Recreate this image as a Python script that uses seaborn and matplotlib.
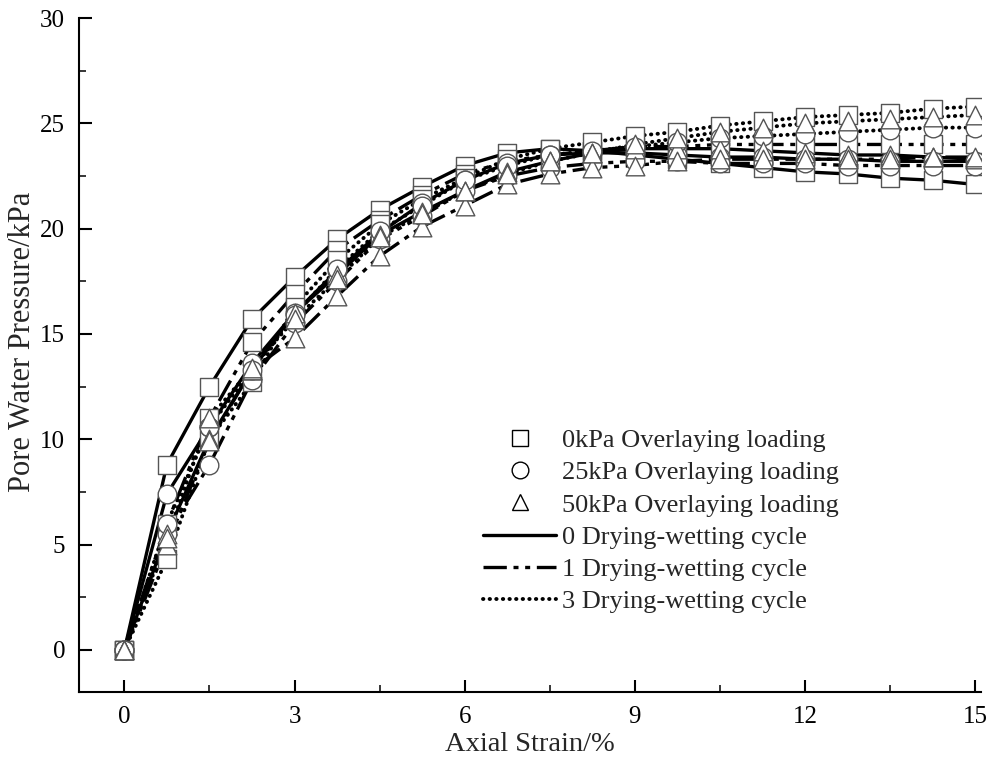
import numpy as np
import pandas as pd
import matplotlib
matplotlib.use("Agg")
import matplotlib.pyplot as plt
from matplotlib.lines import Line2D
import seaborn as sns

# ---- data ----
strain = [0, 0.75, 1.5, 2.25, 3, 3.75, 4.5, 5.25, 6, 6.75, 7.5, 8.25, 9, 9.75,
          10.5, 11.25, 12, 12.75, 13.5, 14.25, 15]

loadings = ["0kPa", "25kPa", "50kPa"]
cycles = ["0", "1", "3"]

p_0kPa_c0 = [0, 8.8, 12.5, 15.7, 17.7, 19.5, 20.9, 22.0, 23.0, 23.6, 23.8, 23.7, 23.5, 23.3, 23.1, 22.9, 22.7, 22.6, 22.4, 22.3, 22.1]
p_0kPa_c1 = [0, 6.0, 11.0, 14.6, 16.9, 19.0, 20.4, 21.6, 22.6, 23.2, 23.5, 23.7, 23.9, 23.9, 24.0, 24.0, 24.0, 24.0, 24.0, 24.0, 24.0]
p_0kPa_c3 = [0, 4.3, 10.0, 12.7, 16.3, 18.5, 20.2, 21.4, 22.4, 23.3, 23.8, 24.1, 24.4, 24.6, 24.9, 25.1, 25.3, 25.4, 25.5, 25.7, 25.8]
p_25kPa_c0 = [0, 7.4, 10.6, 13.6, 16.0, 18.0, 19.8, 21.2, 22.3, 23.1, 23.5, 23.6, 23.6, 23.5, 23.4, 23.4, 23.3, 23.3, 23.2, 23.2, 23.2]
p_25kPa_c1 = [0, 5.5, 8.8, 12.8, 15.5, 17.5, 19.5, 20.6, 21.8, 22.5, 22.9, 23.1, 23.2, 23.2, 23.1, 23.1, 23.1, 23.0, 23.0, 23.0, 23.0]
p_25kPa_c3 = [0, 6.0, 10.6, 13.3, 15.9, 18.1, 19.9, 21.1, 22.3, 23.0, 23.5, 23.7, 23.9, 24.1, 24.3, 24.4, 24.5, 24.6, 24.7, 24.8, 24.8]
p_50kPa_c0 = [0, 5.5, 10.0, 13.3, 16.0, 17.8, 19.7, 20.8, 21.8, 22.7, 23.2, 23.6, 23.8, 23.8, 23.8, 23.7, 23.6, 23.5, 23.5, 23.4, 23.3]
p_50kPa_c1 = [0, 5.0, 9.9, 13.3, 14.8, 16.8, 18.7, 20.1, 21.1, 22.1, 22.6, 22.9, 23.0, 23.2, 23.3, 23.3, 23.3, 23.3, 23.3, 23.4, 23.4]
p_50kPa_c3 = [0, 5.3, 11.0, 13.4, 15.7, 17.6, 19.6, 20.7, 21.8, 22.6, 23.2, 23.6, 24.0, 24.3, 24.6, 24.8, 25.0, 25.1, 25.2, 25.3, 25.4]

series = {
    ("0kPa", "0"): p_0kPa_c0, ("0kPa", "1"): p_0kPa_c1, ("0kPa", "3"): p_0kPa_c3,
    ("25kPa", "0"): p_25kPa_c0, ("25kPa", "1"): p_25kPa_c1, ("25kPa", "3"): p_25kPa_c3,
    ("50kPa", "0"): p_50kPa_c0, ("50kPa", "1"): p_50kPa_c1, ("50kPa", "3"): p_50kPa_c3,
}

x_ticks = [0, 3, 6, 9, 12, 15]
y_ticks = [0, 5, 10, 15, 20, 25, 30]
legend_load = ["0kPa Overlaying loading", "25kPa Overlaying loading", "50kPa Overlaying loading"]
legend_cycle = ["0 Drying-wetting cycle", "1 Drying-wetting cycle", "3 Drying-wetting cycle"]

rows = []
for (ld, cy), vals in series.items():
    for xv, yv in zip(strain, vals):
        rows.append({"strain": xv, "pwp": yv, "loading": ld, "cycle": cy})
df = pd.DataFrame(rows)

# ---- style ----
sns.set_style("ticks")
plt.rcParams["font.family"] = ["Liberation Serif", "DejaVu Serif"]

fig = plt.figure(figsize=(9.9, 7.58), dpi=100)
ax = fig.add_axes([0.0798, 0.0871, 0.911, 0.889])

line_styles = {
    "0": dict(linestyle="-", linewidth=2.4),
    "1": dict(linestyle=(0, (7, 2, 1.5, 2, 1.5, 2)), linewidth=2.4),
    "3": dict(linestyle=(0, (0.1, 1.6)), linewidth=2.8, dash_capstyle="round"),
}
marker_map = {"0kPa": "s", "25kPa": "o", "50kPa": "^"}

for (ld, cy), _ in series.items():
    sub = df[(df.loading == ld) & (df.cycle == cy)]
    st = line_styles[cy]
    sns.lineplot(data=sub, x="strain", y="pwp", ax=ax, color="black",
                 estimator=None, sort=True, zorder=2, legend=False, **st)

for ld in loadings:
    sub = df[df.loading == ld]
    sns.scatterplot(data=sub, x="strain", y="pwp", ax=ax, marker=marker_map[ld],
                    s=180, facecolor="white", edgecolor="#555555", linewidth=1.0,
                    zorder=3, legend=False)

ax.set_xlim(-0.8, 15.1)
ax.set_ylim(-2, 30)
ax.set_xticks(x_ticks)
ax.set_yticks(y_ticks)
ax.set_xticks([1.5, 4.5, 7.5, 10.5, 13.5], minor=True)
ax.set_yticks([2.5, 7.5, 12.5, 17.5, 22.5, 27.5], minor=True)
ax.tick_params(axis="both", which="major", direction="in", length=9, width=1.5,
               labelsize=18, colors="black", pad=10)
ax.tick_params(axis="both", which="minor", direction="in", length=5, width=1.3)
for s in ["top", "right"]:
    ax.spines[s].set_visible(False)
for s in ["left", "bottom"]:
    ax.spines[s].set_linewidth(1.5)
    ax.spines[s].set_color("black")

ax.set_xlabel("Axial Strain/%", fontsize=20.5, labelpad=3)
ax.set_ylabel("Pore Water Pressure/kPa", fontsize=22, labelpad=2)
ax.yaxis.label.set_y(0.52)

handles = []
for ld, lab in zip(loadings, legend_load):
    handles.append(Line2D([], [], linestyle="none", marker=marker_map[ld], markersize=12,
                          markerfacecolor="white", markeredgecolor="black",
                          markeredgewidth=1.0, label=lab))
for cy, lab in zip(cycles, legend_cycle):
    handles.append(Line2D([], [], color="black", label=lab, **line_styles[cy]))
leg = ax.legend(handles=handles, loc="upper left", bbox_to_anchor=(0.427, 0.418),
                frameon=False, fontsize=19, handlelength=2.8, handletextpad=0.2,
                labelspacing=0.33, borderpad=0.2)

fig.savefig("out.png", dpi=100)
